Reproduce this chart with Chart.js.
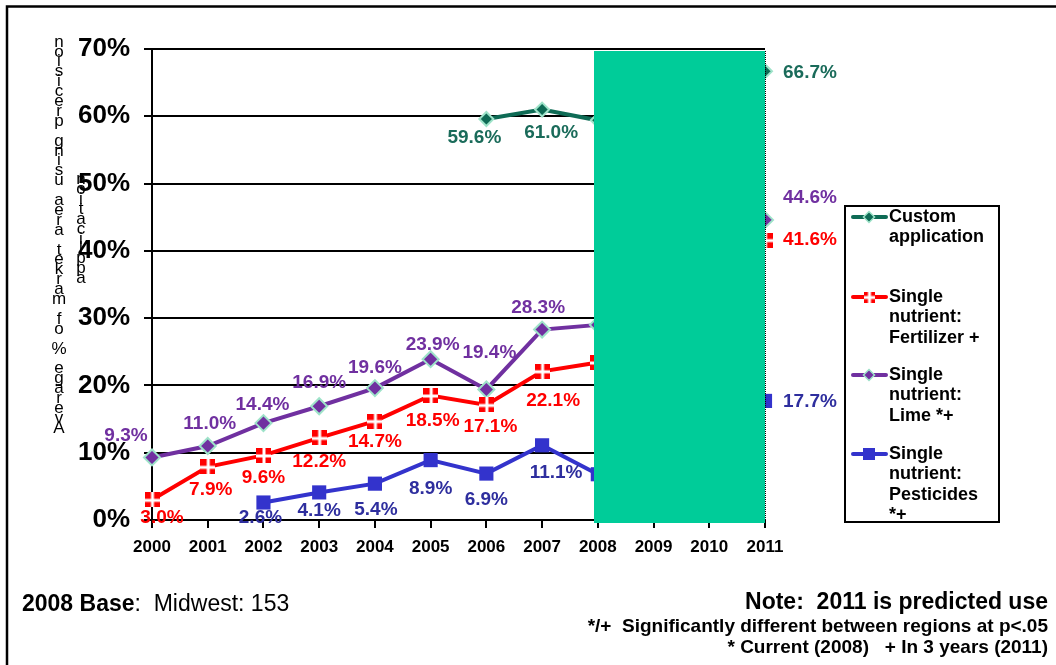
<!DOCTYPE html>
<html>
<head>
<meta charset="utf-8">
<script src="https://cdn.jsdelivr.net/npm/chart.js@4/dist/chart.umd.min.js"></script>
<style>
html,body{margin:0;padding:0;background:#fff;}
#wrap{position:relative;width:1056px;height:665px;}
</style>
</head>
<body>
<div id="wrap"><canvas id="c" width="1056" height="665"></canvas></div>
<script>
// ---- data ----
const years = ['2000','2001','2002','2003','2004','2005','2006','2007','2008','2009','2010','2011'];
const customApp   = [null,null,null,null,null,null,59.6,61.0,59.4,null,null,66.7];
const fertilizer  = [3.0,7.9,9.6,12.2,14.7,18.5,17.1,22.1,23.4,null,null,41.6];
const lime        = [9.3,11.0,14.4,16.9,19.6,23.9,19.4,28.3,29.0,null,null,44.6];
const pesticides  = [null,null,2.6,4.1,5.4,8.9,6.9,11.1,6.8,null,null,17.7];
const yTicks = [0,10,20,30,40,50,60,70];
const seriesNames = [['Custom','application'],['Single','nutrient:','Fertilizer +'],['Single','nutrient:','Lime *+'],['Single','nutrient:','Pesticides','*+']];
const yTitle1 = 'Average % of market area using precision';
const yTitle2 = 'application';

// ---- label offsets (positions, kept separate from data) ----
const offCustom = [null,null,null,null,null,null,[-12,19],[9,23],null,null,null,[18,2]];
const offFert   = [[10,18],[3,23],[0,22],[0,24],[0,21],[2,25],[4,22],[11,29],null,null,null,[18,0]];
const offLime   = [[-26,-22],[2,-22],[-1,-18],[0,-24],[0,-20],[2,-14],[3,-37],[-4,-22],null,null,null,[18,-22]];
const offPest   = [null,null,[-3,15],[0,18],[1,26],[0,29],[0,26],[14,27],null,null,null,[18,1]];

const C_CUSTOM='#0E6B55', C_CUSTOM_LBL='#1A6B5A', C_MINT='#9EE3C9';
const C_FERT='#FF0000', C_LIME='#7030A0', C_PEST='#3333CC', C_PEST_LBL='#2E2E9E';
const FONT="'Liberation Sans', Arial, sans-serif";

function fertMarker(sz){
  const cv=document.createElement('canvas'); cv.width=sz; cv.height=sz;
  const g=cv.getContext('2d');
  g.fillStyle=C_FERT; g.fillRect(0,0,sz,sz);
  g.fillStyle='#fff';
  const m=Math.round(sz/2)-1.5;
  g.fillRect(m,0,3,sz); g.fillRect(0,m,sz,3);
  return cv;
}
const fm = fertMarker(15);

const labelPlugin = {
  id:'labels',
  afterDatasetsDraw(chart){
    const ctx=chart.ctx;
    const sets=[[0,offCustom,C_CUSTOM_LBL],[1,offFert,C_FERT],[2,offLime,C_LIME],[3,offPest,C_PEST_LBL]];
    const a=chart.chartArea;
    ctx.save();
    ctx.fillStyle='#00CC99';
    const xs=chart.scales.x;
    const bx=594, br=xs.getPixelForValue(11);
    ctx.fillRect(bx,a.top+2,br-bx,a.bottom-a.top+1);
    ctx.strokeStyle='#000'; ctx.lineWidth=1; ctx.setLineDash([1,1]);
    ctx.beginPath(); ctx.moveTo(br+0.5,a.top+2); ctx.lineTo(br+0.5,a.bottom+2); ctx.stroke();
    ctx.setLineDash([]);
    ctx.restore();
    ctx.save();
    ctx.font='bold 19px '+FONT;
    ctx.textBaseline='middle';
    sets.forEach(([di,offs,col])=>{
      const meta=chart.getDatasetMeta(di);
      const data=chart.data.datasets[di].data;
      meta.data.forEach((pt,i)=>{
        if(data[i]==null||!offs[i])return;
        const [dx,dy]=offs[i];
        ctx.fillStyle=col;
        ctx.textAlign = i===11 ? 'left':'center';
        ctx.fillText(data[i].toFixed(1)+'%', pt.x+dx, pt.y+dy);
      });
    });
    ctx.restore();
  },
  afterDraw(chart){
    const ctx=chart.ctx;
    ctx.save();
    ctx.strokeStyle='#000'; ctx.lineWidth=2.5;
    ctx.beginPath(); ctx.moveTo(1056,6.5); ctx.lineTo(7,6.5); ctx.lineTo(7,665); ctx.stroke();
    // stacked y title
    ctx.fillStyle='#000'; ctx.font='17px '+FONT; ctx.textAlign='center'; ctx.textBaseline='middle';
    const step=9.9;
    const n1=yTitle1.length, c1=235;
    for(let i=0;i<n1;i++){
      const y=c1+(n1-1)/2*step - i*step;
      ctx.fillText(yTitle1[i],59,y);
    }
    const n2=yTitle2.length, c2=229;
    for(let i=0;i<n2;i++){
      const y=c2+(n2-1)/2*step - i*step;
      ctx.fillText(yTitle2[i],81,y);
    }
    // legend
    const L={x:845,y:206,w:154,h:316};
    ctx.lineWidth=2; ctx.strokeStyle='#000';
    ctx.strokeRect(L.x,L.y,L.w,L.h);
    const entries=[
      {y:217,col:C_CUSTOM,mk:'diamond',fill:C_CUSTOM},
      {y:297,col:C_FERT,mk:'fert'},
      {y:375,col:C_LIME,mk:'diamond',fill:C_LIME},
      {y:454,col:C_PEST,mk:'square'}
    ];
    entries.forEach((e,k)=>{
      ctx.strokeStyle=e.col; ctx.lineWidth=4; ctx.lineCap='round';
      ctx.beginPath(); ctx.moveTo(853,e.y); ctx.lineTo(886,e.y); ctx.stroke();
      const cx=869;
      if(e.mk==='diamond'){
        ctx.fillStyle=e.fill; ctx.strokeStyle=C_MINT; ctx.lineWidth=1.5;
        ctx.beginPath(); ctx.moveTo(cx,e.y-5.5); ctx.lineTo(cx+5.5,e.y); ctx.lineTo(cx,e.y+5.5); ctx.lineTo(cx-5.5,e.y); ctx.closePath(); ctx.fill(); ctx.stroke();
      } else if(e.mk==='fert'){
        ctx.drawImage(fertMarker(11),cx-5.5,e.y-5.5);
      } else {
        ctx.fillStyle=C_PEST; ctx.fillRect(cx-6,e.y-6,12,12);
      }
      ctx.fillStyle='#000'; ctx.font='bold 18px '+FONT; ctx.textAlign='left'; ctx.textBaseline='middle';
      seriesNames[k].forEach((t,j)=>ctx.fillText(t,889,e.y+j*20.5));
    });
    // bottom notes
    ctx.textBaseline='middle'; ctx.textAlign='left'; ctx.fillStyle='#000';
    ctx.font='bold 23px '+FONT;
    ctx.fillText('2008 Base',22,605);
    const w=ctx.measureText('2008 Base').width;
    ctx.font='23px '+FONT;
    ctx.fillText(':  Midwest: 153',22+w,605);
    ctx.textAlign='right';
    ctx.font='bold 23px '+FONT;
    ctx.fillText('Note:  2011 is predicted use',1048,603);
    ctx.font='bold 19px '+FONT;
    ctx.fillText('*/+  Significantly different between regions at p<.05',1048,627);
    ctx.fillText('* Current (2008)   + In 3 years (2011)',1048,648);
    ctx.restore();
  }
};

function ds(label,data,color,extra){
  return Object.assign({label,data,borderColor:color,backgroundColor:color,borderWidth:4,spanGaps:true,tension:0,pointRadius:8,pointHoverRadius:8},extra);
}

new Chart(document.getElementById('c'),{
  type:'line',
  data:{labels:years,datasets:[
    ds('Custom application',customApp,C_CUSTOM,{pointStyle:'rectRot',pointRadius:7,pointBorderColor:C_MINT,pointBorderWidth:2,pointBackgroundColor:C_CUSTOM}),
    ds('Single nutrient: Fertilizer +',fertilizer,C_FERT,{pointStyle:fm}),
    ds('Single nutrient: Lime *+',lime,C_LIME,{pointStyle:'rectRot',pointRadius:8,pointBorderColor:C_MINT,pointBorderWidth:2,pointBackgroundColor:C_LIME}),
    ds('Single nutrient: Pesticides *+',pesticides,C_PEST,{pointStyle:'rect',pointRadius:10,pointBorderWidth:0})
  ]},
  options:{
    responsive:false,animation:false,
    layout:{padding:{left:0,right:291,top:49,bottom:105}},
    plugins:{legend:{display:false},tooltip:{enabled:false}},
    scales:{
      x:{
        offset:false,
        afterFit(s){s.height=40;},
        grid:{display:true,drawOnChartArea:false,drawTicks:true,tickLength:8,color:'#000',lineWidth:2},
        border:{display:true,color:'#000',width:2},
        ticks:{color:'#000',font:{family:FONT,size:17,weight:'bold'},padding:9,maxRotation:0,autoSkip:false}
      },
      y:{
        min:0,max:70,
        afterFit(s){s.width=152;},
        afterBuildTicks(s){s.ticks=yTicks.map(v=>({value:v}));},
        grid:{color:'#000',lineWidth:2,drawTicks:true,tickLength:8},
        border:{display:true,color:'#000',width:2},
        ticks:{color:'#000',font:{family:FONT,size:26,weight:'bold'},padding:14,callback:v=>v+'%'}
      }
    }
  },
  plugins:[labelPlugin]
});
</script>
</body>
</html>
